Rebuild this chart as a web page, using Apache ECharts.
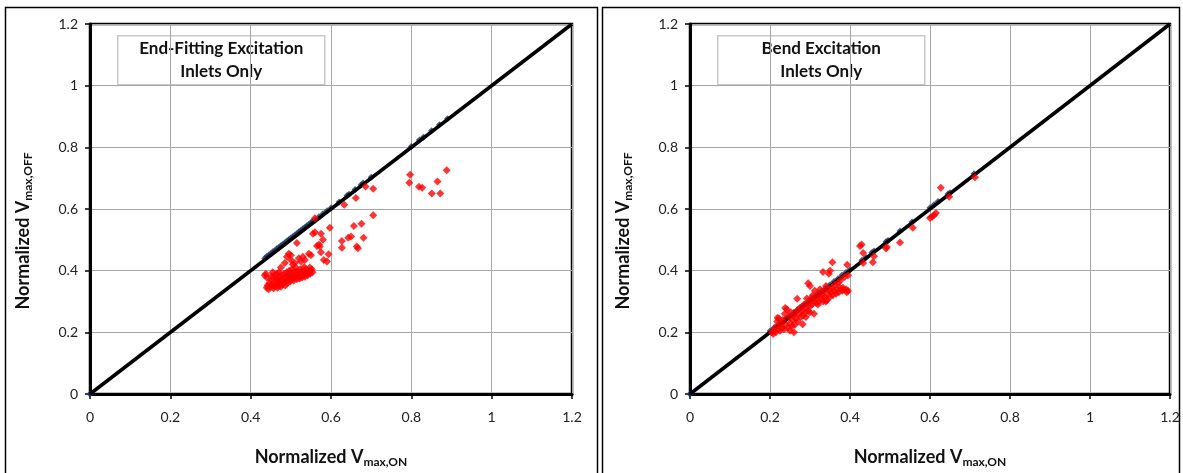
<!DOCTYPE html>
<html>
<head>
<meta charset="utf-8">
<script src="https://cdn.jsdelivr.net/npm/echarts@6/dist/echarts.min.js"></script>
<style>
  html, body { margin: 0; padding: 0; background: #fff; }
  #chart { width: 1183px; height: 473px; }
</style>
</head>
<body>
<div id="chart"></div>
<script>
var axisTicks = [0, 0.2, 0.4, 0.6, 0.8, 1, 1.2];
var diagonal = [[0, 0], [1.2, 1.2]];
var titles = ['End-Fitting Excitation\nInlets Only', 'Bend Excitation\nInlets Only'];

// End-fitting excitation, off-line points
var leftRed = [
  [0.435,0.385],[0.438,0.39],[0.44,0.378],[0.44,0.345],[0.442,0.352],[0.445,0.34],[0.447,0.36],[0.45,0.348],
  [0.45,0.37],[0.452,0.382],[0.455,0.355],[0.457,0.343],[0.46,0.365],[0.46,0.35],[0.462,0.375],[0.465,0.358],
  [0.467,0.345],[0.468,0.37],[0.47,0.352],[0.47,0.38],[0.472,0.362],[0.475,0.348],[0.475,0.372],[0.477,0.385],
  [0.48,0.36],[0.48,0.355],[0.482,0.375],[0.483,0.39],[0.485,0.365],[0.486,0.352],[0.488,0.38],[0.49,0.37],
  [0.49,0.395],[0.492,0.36],[0.493,0.385],[0.495,0.375],[0.496,0.4],[0.498,0.365],[0.5,0.38],[0.5,0.39],
  [0.502,0.372],[0.503,0.405],[0.505,0.385],[0.507,0.368],[0.508,0.395],[0.51,0.378],[0.512,0.41],[0.513,0.388],
  [0.515,0.372],[0.517,0.398],[0.518,0.38],[0.52,0.39],[0.522,0.375],[0.523,0.405],[0.525,0.385],[0.527,0.395],
  [0.528,0.378],[0.53,0.4],[0.532,0.388],[0.533,0.412],[0.535,0.38],[0.537,0.395],[0.538,0.405],[0.54,0.39],
  [0.542,0.385],[0.543,0.4],[0.545,0.395],[0.547,0.41],[0.548,0.39],[0.55,0.4],[0.552,0.405],[0.554,0.395],
  [0.5,0.435],[0.49,0.445],[0.495,0.455],[0.5,0.45],[0.51,0.425],[0.52,0.44],[0.53,0.445],[0.535,0.435],
  [0.525,0.43],[0.515,0.49],[0.505,0.42],[0.485,0.425],[0.475,0.41],[0.47,0.395],[0.465,0.39],[0.455,0.395],
  [0.46,0.385],
  [0.545,0.455],[0.55,0.45],[0.555,0.52],[0.56,0.525],[0.56,0.57],[0.565,0.48],[0.57,0.485],[0.572,0.478],
  [0.575,0.52],[0.58,0.5],[0.575,0.46],[0.582,0.435],[0.59,0.43],[0.594,0.453],[0.597,0.539],[0.627,0.496],
  [0.627,0.474],[0.633,0.614],[0.643,0.507],[0.65,0.511],[0.657,0.545],[0.662,0.636],[0.664,0.478],[0.667,0.473],
  [0.676,0.552],[0.681,0.507],[0.686,0.673],[0.705,0.666],[0.705,0.58],[0.797,0.711],[0.795,0.685],[0.819,0.672],
  [0.827,0.669],[0.851,0.65],[0.865,0.689],[0.872,0.65],[0.888,0.726]
];

// End-fitting excitation, on-line points
var leftBlue = [
  [0,0],[0.435,0.44],[0.44,0.446],[0.445,0.451],[0.45,0.455],[0.455,0.461],[0.46,0.465],[0.465,0.471],
  [0.47,0.475],[0.475,0.481],[0.48,0.486],[0.485,0.49],[0.49,0.496],[0.495,0.5],[0.5,0.506],[0.505,0.51],
  [0.51,0.516],[0.515,0.52],[0.52,0.526],[0.525,0.53],[0.53,0.536],[0.535,0.54],[0.54,0.546],[0.545,0.55],
  [0.55,0.556],[0.555,0.56],[0.56,0.565],[0.57,0.575],[0.58,0.585],[0.59,0.594],[0.6,0.603],[0.62,0.623],
  [0.64,0.644],[0.645,0.648],[0.66,0.663],[0.675,0.679],[0.68,0.684],[0.7,0.703],[0.8,0.803],[0.82,0.824],
  [0.83,0.833],[0.85,0.854],[0.87,0.873],[0.89,0.893]
];

// Bend excitation, off-line points
var rightRed = [
  [0.205,0.2],[0.208,0.195],[0.21,0.205],[0.212,0.215],[0.215,0.2],[0.218,0.235],[0.22,0.21],[0.222,0.245],
  [0.225,0.205],[0.227,0.225],[0.23,0.215],[0.232,0.24],[0.235,0.21],[0.237,0.26],[0.24,0.225],[0.242,0.275],
  [0.245,0.215],[0.247,0.25],[0.25,0.23],[0.252,0.265],[0.255,0.22],[0.257,0.24],[0.26,0.255],[0.262,0.225],
  [0.265,0.245],[0.267,0.27],[0.268,0.309],[0.27,0.235],[0.272,0.26],[0.275,0.28],[0.277,0.25],[0.28,0.27],
  [0.2815,0.226],[0.283,0.255],[0.285,0.29],[0.287,0.265],[0.29,0.28],[0.292,0.31],[0.295,0.27],[0.2955,0.359],
  [0.297,0.295],[0.3,0.285],[0.3,0.35],[0.302,0.31],[0.305,0.29],[0.307,0.32],[0.31,0.3],[0.312,0.335],
  [0.315,0.295],[0.317,0.31],[0.32,0.325],[0.322,0.3],[0.325,0.34],[0.327,0.31],[0.33,0.32],[0.3325,0.396],
  [0.333,0.3],[0.335,0.335],[0.337,0.315],[0.34,0.35],[0.342,0.305],[0.345,0.325],[0.347,0.39],[0.348,0.34],
  [0.35,0.4],[0.35,0.315],[0.352,0.33],[0.355,0.345],[0.356,0.4275],[0.357,0.32],[0.36,0.335],[0.362,0.355],
  [0.365,0.325],[0.367,0.34],[0.37,0.36],[0.372,0.33],[0.375,0.345],[0.377,0.37],[0.38,0.335],[0.382,0.345],
  [0.385,0.338],[0.387,0.38],[0.39,0.34],[0.392,0.33],[0.393,0.419],[0.395,0.335],[0.395,0.385],[0.238,0.279],
  [0.219,0.247],[0.26,0.2],[0.25,0.205],[0.31,0.26],[0.29,0.25],[0.3,0.265],[0.32,0.29],[0.34,0.3],
  [0.425,0.48],[0.429,0.485],[0.433,0.457],[0.433,0.425],[0.46,0.447],[0.457,0.427],[0.492,0.477],[0.49,0.472],
  [0.525,0.491],[0.557,0.539],[0.6,0.571],[0.605,0.575],[0.61,0.58],[0.615,0.587],[0.627,0.669],[0.648,0.64],
  [0.7125,0.703]
];

// Bend excitation, on-line points
var rightBlue = [
  [0,0],[0.2,0.204],[0.21,0.214],[0.22,0.225],[0.23,0.234],[0.24,0.245],[0.25,0.254],[0.26,0.265],
  [0.27,0.274],[0.28,0.285],[0.29,0.294],[0.3,0.305],[0.31,0.314],[0.32,0.325],[0.33,0.334],[0.34,0.345],
  [0.35,0.354],[0.36,0.365],[0.37,0.374],[0.38,0.385],[0.39,0.394],[0.4,0.404],[0.43,0.434],[0.44,0.443],
  [0.455,0.459],[0.46,0.464],[0.49,0.494],[0.495,0.498],[0.525,0.529],[0.555,0.558],[0.6,0.604],[0.61,0.614],
  [0.62,0.624],[0.645,0.649],[0.65,0.653],[0.71,0.714]
];

var font = 'Lato, "Open Sans", sans-serif';

function nameStyle(pad) {
  return {
    padding: pad,
    rich: {
      a: { fontFamily: font, fontSize: 18, fontWeight: 'bold', color: '#111' },
      b: { fontFamily: font, fontSize: 12, fontWeight: 'bold', color: '#111', verticalAlign: 'bottom', padding: [10, 0, 0, 0] }
    }
  };
}

function labelFmt(v) { return String(Math.round(v * 10) / 10); }

function xAxisOf(i) {
  return {
    type: 'value', gridIndex: i, min: 0, max: 1.2, interval: 0.2,
    name: '{a|Normalized V}{b|max,ON}',
    nameLocation: 'middle', nameGap: 52,
    nameTextStyle: nameStyle([0, 0, 0, 0]),
    axisLine: { show: true, onZero: false, lineStyle: { color: '#000', width: 3 } },
    axisTick: { show: true, length: 5, lineStyle: { color: '#000', width: 1.5 } },
    axisLabel: { margin: 16, color: '#222', fontFamily: font, fontSize: 14, formatter: labelFmt },
    splitLine: { show: true, lineStyle: { color: '#a6a6a6', width: 1 } }
  };
}

function yAxisOf(i) {
  return {
    type: 'value', gridIndex: i, min: 0, max: 1.2, interval: 0.2,
    name: '{a|Normalized V}{b|max,OFF}',
    nameLocation: 'middle', nameGap: 56,
    nameTextStyle: nameStyle([0, 44, 0, 0]),
    axisLine: { show: true, onZero: false, lineStyle: { color: '#000', width: 3 } },
    axisTick: { show: true, length: 5, lineStyle: { color: '#000', width: 1.5 } },
    axisLabel: { margin: 12, color: '#222', fontFamily: font, fontSize: 14, formatter: labelFmt },
    splitLine: { show: true, lineStyle: { color: '#a6a6a6', width: 1 } }
  };
}

function seriesOf(i, red, blue) {
  return [
    { type: 'scatter', xAxisIndex: i, yAxisIndex: i, data: blue, symbol: 'diamond', symbolSize: 7,
      itemStyle: { color: '#1f3a6e' }, z: 2, silent: true },
    { type: 'line', xAxisIndex: i, yAxisIndex: i, data: diagonal, symbol: 'none',
      lineStyle: { color: '#000', width: 3.5 }, z: 3, silent: true },
    { type: 'scatter', xAxisIndex: i, yAxisIndex: i, data: red, symbol: 'diamond', symbolSize: 8,
      itemStyle: { color: '#ff0000' }, z: 4, silent: true }
  ];
}

function legendBox(x, y, w, h, text) {
  return {
    type: 'group', left: x, top: y,
    children: [
      { type: 'rect', shape: { x: 0, y: 0, width: w, height: h },
        style: { fill: '#fff', stroke: '#c8c8c8', lineWidth: 1.5 } },
      { type: 'text', x: w / 2, y: h / 2,
        style: { text: text, fill: '#111', font: 'bold 17px ' + font, align: 'center',
          verticalAlign: 'middle', lineHeight: 23 } }
    ]
  };
}

var chart = echarts.init(document.getElementById('chart'));
chart.setOption({
  animation: false,
  backgroundColor: '#fff',
  grid: [
    { left: 90, top: 24, width: 482, height: 373, show: true, backgroundColor: '#fff', borderColor: '#000', borderWidth: 2.5 },
    { left: 690, top: 24, width: 480, height: 377, show: true, backgroundColor: '#fff', borderColor: '#000', borderWidth: 2.5 }
  ],
  xAxis: [xAxisOf(0), xAxisOf(1)],
  yAxis: [yAxisOf(0), yAxisOf(1)],
  series: seriesOf(0, leftRed, leftBlue).concat(seriesOf(1, rightRed, rightBlue)),
  graphic: [
    { type: 'rect', shape: { x: 5.5, y: 7.5, width: 592, height: 500 }, style: { fill: null, stroke: '#000', lineWidth: 1.5 }, z: -1 },
    { type: 'rect', shape: { x: 602.5, y: 7.5, width: 577, height: 500 }, style: { fill: null, stroke: '#000', lineWidth: 1.5 }, z: -1 },
    legendBox(117, 35, 207, 49, titles[0]),
    legendBox(717, 35, 207, 49, titles[1])
  ]
});
</script>
</body>
</html>
